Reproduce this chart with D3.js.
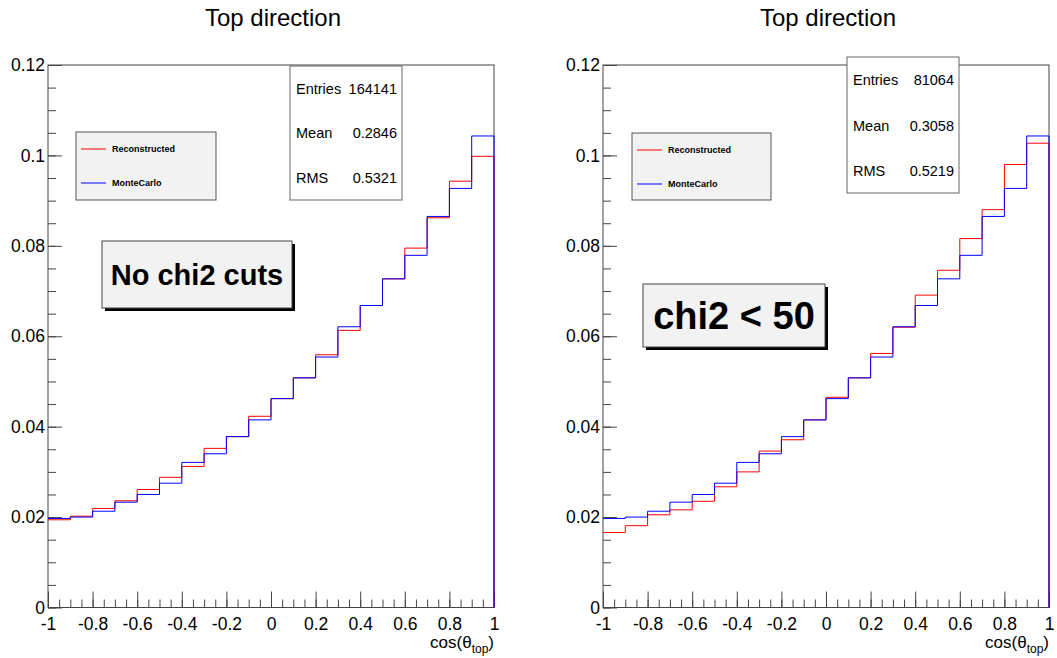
<!DOCTYPE html>
<meta charset="utf-8" />
<style>
    body { margin: 0; background: #fff; }
    text { font-family: "Liberation Sans", Arial, Helvetica, sans-serif; }
</style>
<title>Top direction</title>
<body></body>
<script src="https://d3js.org/d3.v7.min.js"></script>
<script>

    // bin contents (20 bins from -1 to 1), normalised to unit area
    var recoNoCut = [0.0194, 0.0202, 0.0219, 0.0236, 0.0261, 0.0288, 0.0312, 0.0352, 0.0378, 0.0423,
                     0.0462, 0.0508, 0.0559, 0.0613, 0.0668, 0.0727, 0.0795, 0.0862, 0.0943, 0.0998];
    var recoChi2 = [0.0166, 0.0181, 0.0205, 0.0216, 0.0235, 0.0267, 0.0300, 0.0346, 0.0371, 0.0415,
                    0.0465, 0.0508, 0.0562, 0.0620, 0.0691, 0.0746, 0.0816, 0.0880, 0.0980, 0.1027];
    var monteCarlo = [0.0197, 0.0200, 0.0213, 0.0233, 0.0250, 0.0275, 0.0321, 0.0340, 0.0378, 0.0415,
                      0.0462, 0.0508, 0.0554, 0.0621, 0.0668, 0.0727, 0.0779, 0.0865, 0.0927, 0.1043];

    var xTicks = [-1, -0.8, -0.6, -0.4, -0.2, 0, 0.2, 0.4, 0.6, 0.8, 1];
    var yTicks = [0, 0.02, 0.04, 0.06, 0.08, 0.1, 0.12];

    var statLabels = ["Entries", "Mean", "RMS"];
    var statsNoCut = ["164141", "0.2846", "0.5321"];
    var statsChi2 = ["81064", "0.3058", "0.5219"];

    var legendLabels = ["Reconstructed", "MonteCarlo"];
    var titleText = "Top direction";

    var svgWidth = 1057, svgHeight = 658;
    var yTop = 65, yBottom = 607.5;

    var svg = d3.select("body").append("svg")
        .attr("width", svgWidth)
        .attr("height", svgHeight)
        .style("background", "#fff");

    var panels = [
        { x0: 48, x1: 494, reco: recoNoCut, stats: statsNoCut, label: "No chi2 cuts",
          statBox: [290, 66, 112, 134], statY: [89, 133, 178], legend: [76, 132, 140, 68],
          labelBox: [102, 241, 190, 67], labelSize: 29 },
        { x0: 603, x1: 1049, reco: recoChi2, stats: statsChi2, label: "chi2 < 50",
          statBox: [847, 57, 112, 136], statY: [80, 126, 171], legend: [632, 133, 139, 67],
          labelBox: [643, 284, 182, 63], labelSize: 38 }
    ];

    panels.forEach(drawPanel);

    function drawPanel(p) {
        var x = d3.scaleLinear().domain([-1, 1]).range([p.x0, p.x1]);
        var y = d3.scaleLinear().domain([0, 0.12]).range([yBottom, yTop]);
        var g = svg.append("g");

        // title
        g.append("text")
            .attr("x", (p.x0 + p.x1) / 2 + 2)
            .attr("y", 26)
            .attr("text-anchor", "middle")
            .style("font-size", "24px")
            .text(titleText);

        // frame
        g.append("rect")
            .attr("x", p.x0).attr("y", yTop)
            .attr("width", p.x1 - p.x0).attr("height", yBottom - yTop)
            .attr("fill", "none")
            .attr("stroke", "#444");

        // x axis: minor then major ticks pointing inward
        var xMinor = d3.range(0, 41).map(function (i) { return -1 + i * 0.05; });
        g.append("g")
            .attr("transform", "translate(0," + yBottom + ")")
            .call(d3.axisBottom(x).tickValues(xMinor).tickSize(-8).tickFormat(""))
            .call(styleAxis);
        g.append("g")
            .attr("transform", "translate(0," + yBottom + ")")
            .call(d3.axisBottom(x).tickValues(xTicks).tickSize(-16).tickPadding(10)
                .tickFormat(function (d) { return String(d); }))
            .call(styleAxis);

        // y axis
        var yMinor = d3.range(0, 25).map(function (i) { return i * 0.005; });
        g.append("g")
            .attr("transform", "translate(" + p.x0 + ",0)")
            .call(d3.axisLeft(y).tickValues(yMinor).tickSize(-8).tickFormat(""))
            .call(styleAxis);
        g.append("g")
            .attr("transform", "translate(" + p.x0 + ",0)")
            .call(d3.axisLeft(y).tickValues(yTicks).tickSize(-14).tickPadding(3)
                .tickFormat(function (d) { return String(+d.toFixed(2)); }))
            .call(styleAxis);

        // axis title cos(theta_top)
        var at = g.append("text")
            .attr("x", p.x1)
            .attr("y", 648)
            .attr("text-anchor", "end")
            .style("font-size", "17px");
        at.append("tspan").text("cos(θ");
        at.append("tspan").attr("dy", 5).style("font-size", "12px").text("top");
        at.append("tspan").attr("dy", -5).text(")");

        // histograms
        drawHist(g, p.reco, x, y, "#ff0000");
        drawHist(g, monteCarlo, x, y, "#0000ff");

        // stats box
        var sb = p.statBox;
        g.append("rect")
            .attr("x", sb[0]).attr("y", sb[1]).attr("width", sb[2]).attr("height", sb[3])
            .attr("fill", "#fff").attr("stroke", "#666");
        statLabels.forEach(function (lab, i) {
            g.append("text")
                .attr("x", sb[0] + 6).attr("y", p.statY[i] + 5)
                .style("font-size", "14.5px").text(lab);
            g.append("text")
                .attr("x", sb[0] + sb[2] - 5).attr("y", p.statY[i] + 5)
                .attr("text-anchor", "end")
                .style("font-size", "14.5px").text(p.stats[i]);
        });

        // legend
        var lg = p.legend;
        g.append("rect")
            .attr("x", lg[0]).attr("y", lg[1]).attr("width", lg[2]).attr("height", lg[3])
            .attr("fill", "#f2f2f2").attr("stroke", "#555");
        ["#ff0000", "#0000ff"].forEach(function (c, i) {
            var ly = lg[1] + 17 + i * 34;
            g.append("line")
                .attr("x1", lg[0] + 5).attr("x2", lg[0] + 30)
                .attr("y1", ly).attr("y2", ly)
                .attr("stroke", c).attr("stroke-width", 1);
            g.append("text")
                .attr("x", lg[0] + 36).attr("y", ly + 3)
                .style("font-size", "9px").style("font-weight", "bold")
                .text(legendLabels[i]);
        });

        // label box with shadow
        var b = p.labelBox;
        g.append("rect")
            .attr("x", b[0] + 3).attr("y", b[1] + 3).attr("width", b[2]).attr("height", b[3])
            .attr("fill", "#000");
        g.append("rect")
            .attr("x", b[0]).attr("y", b[1]).attr("width", b[2]).attr("height", b[3])
            .attr("fill", "#f2f2f2").attr("stroke", "#444");
        g.append("text")
            .attr("x", b[0] + b[2] / 2).attr("y", b[1] + b[3] / 2)
            .attr("dy", "0.36em")
            .attr("text-anchor", "middle")
            .style("font-size", p.labelSize + "px").style("font-weight", "bold")
            .text(p.label);
    }

    function styleAxis(sel) {
        sel.select(".domain").remove();
        sel.selectAll(".tick line").attr("stroke", "#444");
        sel.selectAll(".tick text")
            .attr("fill", "#000")
            .style("font-size", "17.5px")
            .style("font-family", "'Liberation Sans', Arial, sans-serif");
    }

    // step outline: starts at the top of the first bin, drops to zero at the right edge
    function drawHist(g, values, x, y, color) {
        var w = 2 / values.length;
        var pts = [];
        values.forEach(function (v, i) {
            pts.push([x(-1 + i * w), y(v)]);
            pts.push([x(-1 + (i + 1) * w), y(v)]);
        });
        pts.push([x(1), y(0)]);
        g.append("path")
            .attr("d", d3.line()(pts))
            .attr("fill", "none")
            .attr("stroke", color)
            .attr("stroke-width", 1);
    }

</script>
